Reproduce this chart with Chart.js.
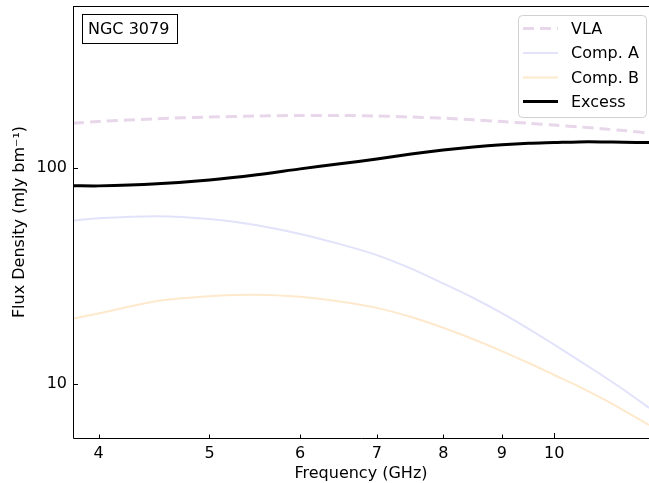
<!DOCTYPE html>
<html>
<head>
<meta charset="utf-8">
<script src="https://cdn.jsdelivr.net/npm/chart.js@4"></script>
<style>
  html, body { margin: 0; padding: 0; background: #fff; }
  #wrap { width: 649px; height: 483px; }
</style>
</head>
<body>
<div id="wrap"><canvas id="sed"></canvas></div>
<script>
// frequencies in GHz
const freq = [3.8, 4, 4.5, 5, 5.5, 6, 6.5, 7, 7.5, 8, 8.5, 9, 9.5, 10, 10.5, 11, 11.5, 12.1];
// flux densities in mJy/beam
const vla = [161, 164, 169, 172, 174, 175, 175, 174, 172, 170, 167, 164, 161, 158, 155, 152, 149, 145];
const compA = [57, 58.5, 59.8, 58, 54.3, 49.5, 44.4, 39.5, 34.2, 29.2, 25, 21.3, 18, 15.2, 12.9, 11, 9.4, 7.75];
const compB = [20.1, 21.2, 24.2, 25.5, 25.9, 25.3, 24.1, 22.5, 20.4, 18.2, 16.1, 14.2, 12.5, 11.0, 9.75, 8.6, 7.55, 6.45];
const excess = [82.8, 82.6, 84.5, 88, 93, 99, 104.5, 110, 116, 121, 125, 128, 130, 131, 132, 132, 131.5, 131];

const xTicks = [4, 5, 6, 7, 8, 9, 10];
const yTicks = [10, 100];
const sourceName = 'NGC 3079';

const FONT = 'DejaVu Sans';

function pts(ys) {
    return freq.map((f, i) => ({ x: f, y: ys[i] }));
}

// axes frame, inward ticks, name box and legend
const decor = {
    id: 'decor',
    afterDraw(chart) {
        const ctx = chart.ctx;
        const a = chart.chartArea;
        const xs = chart.scales.x, ys = chart.scales.y;
        ctx.save();
        ctx.strokeStyle = '#000';
        ctx.lineWidth = 1;
        ctx.beginPath();
        ctx.moveTo(a.left + 0.5, a.top + 0.5);
        ctx.lineTo(a.left + 0.5, a.bottom + 0.5);
        ctx.lineTo(a.right, a.bottom + 0.5);
        ctx.moveTo(a.left, a.top + 0.5);
        ctx.lineTo(a.right, a.top + 0.5);
        ctx.stroke();

        ctx.beginPath();
        xTicks.forEach(v => {
            const px = Math.round(xs.getPixelForValue(v)) + 0.5;
            const len = v === 10 ? 5 : 3.5;
            ctx.moveTo(px, a.bottom);
            ctx.lineTo(px, a.bottom - len);
        });
        yTicks.forEach(v => {
            const py = Math.round(ys.getPixelForValue(v)) + 0.5;
            ctx.moveTo(a.left, py);
            ctx.lineTo(a.left + 5, py);
        });
        ctx.stroke();

        // source name box
        ctx.font = '16px ' + FONT;
        ctx.fillStyle = '#000';
        ctx.textBaseline = 'middle';
        ctx.textAlign = 'left';
        ctx.strokeRect(82.5, 14.5, 95, 29);
        ctx.fillText(sourceName, 88, 29.5);

        // legend
        const lx = 518, ly = 15, lw = 128, lh = 102;
        ctx.fillStyle = 'rgba(255,255,255,0.8)';
        ctx.strokeStyle = '#d0d0d0';
        ctx.beginPath();
        ctx.roundRect(lx + 0.5, ly + 0.5, lw, lh, 4);
        ctx.fill();
        ctx.stroke();
        const rows = [28.5, 53, 77.5, 101.5];
        chart.data.datasets.forEach((ds, i) => {
            const y = rows[i];
            ctx.strokeStyle = ds.borderColor;
            ctx.lineWidth = ds.borderWidth;
            ctx.setLineDash(ds.borderDash || []);
            ctx.beginPath();
            ctx.moveTo(523, y);
            ctx.lineTo(558, y);
            ctx.stroke();
            ctx.setLineDash([]);
            ctx.fillStyle = '#000';
            ctx.fillText(ds.label, 571, y + 1);
        });
        ctx.restore();
    }
};

new Chart(document.getElementById('sed'), {
    type: 'line',
    data: {
        datasets: [
            { label: 'VLA', data: pts(vla), borderColor: 'rgb(232, 214, 234)', borderWidth: 3, borderDash: [11, 6] },
            { label: 'Comp. A', data: pts(compA), borderColor: 'rgb(226, 226, 250)', borderWidth: 2 },
            { label: 'Comp. B', data: pts(compB), borderColor: 'rgb(254, 233, 204)', borderWidth: 2 },
            { label: 'Excess', data: pts(excess), borderColor: '#000', borderWidth: 3 }
        ]
    },
    options: {
        responsive: true,
        maintainAspectRatio: false,
        animation: false,
        layout: { padding: { top: 6, right: 0, left: 0, bottom: 0 } },
        elements: { point: { radius: 0 }, line: { tension: 0.3 } },
        plugins: { legend: { display: false }, tooltip: { enabled: false } },
        scales: {
            x: {
                type: 'logarithmic',
                min: 3.8,
                max: 12.1,
                grid: { display: false, drawTicks: false, tickLength: 0 },
                border: { display: false },
                afterBuildTicks: s => { s.ticks = xTicks.map(v => ({ value: v })); },
                afterFit: s => { s.height = 45; s.paddingLeft = 0; s.paddingRight = 0; },
                ticks: {
                    autoSkip: false,
                    maxRotation: 0,
                    padding: 6,
                    color: '#000',
                    font: { family: FONT, size: 16 },
                    callback: v => String(v)
                },
                title: {
                    display: true,
                    text: 'Frequency (GHz)',
                    color: '#000',
                    font: { family: FONT, size: 16 },
                    padding: { top: 0, bottom: 0 }
                }
            },
            y: {
                type: 'logarithmic',
                min: 5.62,
                max: 562,
                grid: { display: false, drawTicks: false, tickLength: 0 },
                border: { display: false },
                afterBuildTicks: s => { s.ticks = yTicks.map(v => ({ value: v })); },
                afterFit: s => { s.width = 73; s.paddingTop = 0; s.paddingBottom = 0; },
                ticks: {
                    autoSkip: false,
                    padding: 6,
                    color: '#000',
                    font: { family: FONT, size: 16 },
                    callback: v => String(v)
                },
                title: {
                    display: true,
                    text: 'Flux Density (mJy bm\u207B\u00B9)',
                    color: '#000',
                    font: { family: FONT, size: 16 },
                    padding: { top: 10, bottom: 0 }
                }
            }
        }
    },
    plugins: [decor]
});
</script>
</body>
</html>
